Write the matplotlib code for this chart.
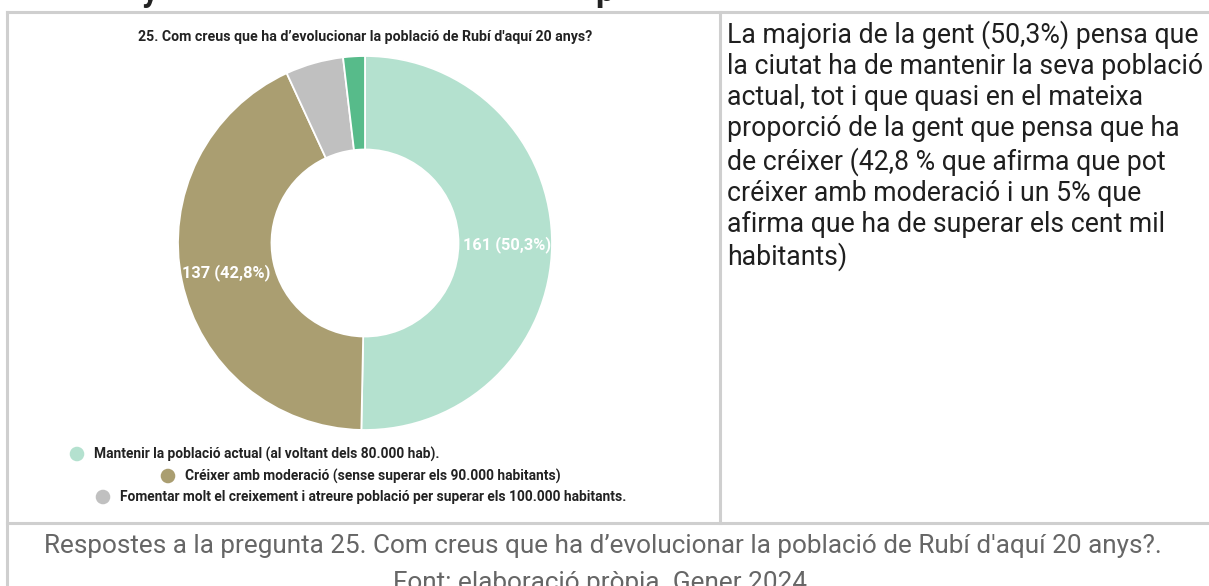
import matplotlib
matplotlib.use('Agg')
import matplotlib.pyplot as plt
import numpy as np

plt.rcParams['font.family'] = ['Roboto', 'DejaVu Sans']

W, H = 1209, 586
BORDER = '#cfcfcf'

# ── Data ──
categories = [
    'Mantenir la població actual (al voltant dels 80.000 hab).',
    'Créixer amb moderació (sense superar els 90.000 habitants)',
    'Fomentar molt el creixement i atreure població per superar els 100.000 habitants.',
    'Altres',
]
counts = [161, 137, 16, 6]
colors = ['#b4e1cf', '#aa9e71', '#c0c0c0', '#57bb8a']
legend_n = 3

title = "25. Com creus que ha d\u2019evolucionar la població de Rubí d'aquí 20 anys?"
side_lines = [
    'La majoria de la gent (50,3%) pensa que',
    'la ciutat ha de mantenir la seva població',
    'actual, tot i que quasi en el mateixa',
    'proporció de la gent que pensa que ha',
    'de créixer (42,8 % que afirma que pot',
    'créixer amb moderació i un 5% que',
    'afirma que ha de superar els cent mil',
    'habitants)',
]
caption = ["Respostes a la pregunta 25. Com creus que ha d\u2019evolucionar la població de Rubí d'aquí 20 anys?.",
           'Font: elaboració pròpia. Gener 2024.']

fig = plt.figure(figsize=(W / 100, H / 100), dpi=100)
fig.patch.set_facecolor('white')

# background axes in pixel coordinates
bg = fig.add_axes([0, 0, 1, 1])
bg.set_xlim(0, W)
bg.set_ylim(H, 0)
bg.axis('off')

# table borders
lw = 2.2
bg.plot([7, W], [12, 12], color=BORDER, lw=lw)
bg.plot([7, 7], [12, H], color=BORDER, lw=lw)
bg.plot([720, 720], [12, 523], color=BORDER, lw=lw)
bg.plot([7, W], [523, 523], color=BORDER, lw=lw)

# descenders of the heading cut off above
bg.text(150, 1, 'y', fontsize=24, fontweight='bold', color='#222222', ha='center', va='baseline')
bg.text(605, 1, 'p', fontsize=24, fontweight='bold', color='#222222', ha='center', va='baseline')

# chart title
bg.text(365, 37, title, fontsize=10.2, fontweight='bold', color='#222222', ha='center', va='center')

# donut
cx, cy, r = 365, 243, 187
ax = fig.add_axes([(cx - r) / W, (H - cy - r) / H, 2 * r / W, 2 * r / H])
wedges, _ = ax.pie(counts, colors=colors, startangle=90, counterclock=False, radius=1,
                   wedgeprops=dict(width=0.5, edgecolor='white', linewidth=1.3))
ax.set_xlim(-1, 1)
ax.set_ylim(-1, 1)
total = sum(counts)
for w, n in zip(wedges, counts):
    pct = n / total * 100
    if pct < 10:
        continue
    ang = np.deg2rad((w.theta1 + w.theta2) / 2)
    ax.text(0.76 * np.cos(ang), 0.76 * np.sin(ang),
            '{} ({})'.format(n, ('%.1f%%' % pct).replace('.', ',')),
            color='white', fontsize=11.8, fontweight='bold', ha='center', va='center')

# legend (as laid out in the reference)
leg_pos = [(77, 454), (168, 476), (103, 497)]
for (lx, ly), lab, c in zip(leg_pos, categories[:legend_n], colors[:legend_n]):
    bg.scatter([lx], [ly], s=110, color=c, edgecolors='none')
    bg.text(lx + 17, ly, lab, fontsize=9.9, fontweight='bold', color='#222222', ha='left', va='center')

# side text
bg.text(727, 20, '\n'.join(side_lines), fontsize=19.2, color='#1f1f1f', ha='left', va='top',
        linespacing=1.2)

# caption (second line runs past the bottom edge, as in the reference)
for txt, yb in zip(caption, [553, 590]):
    bg.text(603, yb, txt, fontsize=18.8, color='#666666', ha='center', va='baseline')

plt.savefig('out.png', dpi=100, facecolor='white')
plt.close()
